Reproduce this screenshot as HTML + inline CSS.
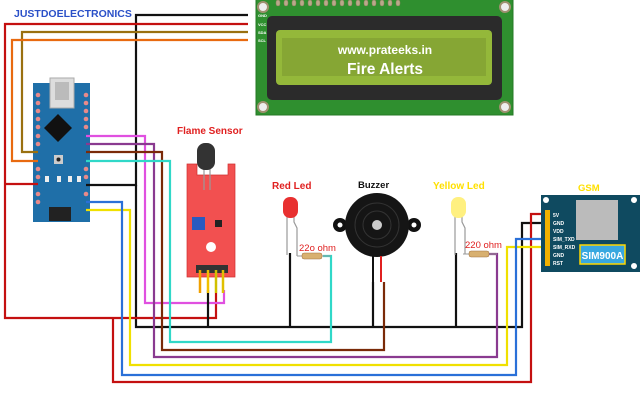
<!DOCTYPE html>
<html><head><meta charset="utf-8"><style>
html,body{margin:0;padding:0;background:#fff;}
svg{display:block;}
text{font-family:"Liberation Sans",sans-serif;font-weight:bold;}
</style></head><body>
<svg width="640" height="406" viewBox="0 0 640 406" xmlns="http://www.w3.org/2000/svg">
<rect width="640" height="406" fill="#fff"/>
<text x="14" y="17" font-size="10.5" fill="#2a50c8">JUSTDOELECTRONICS</text>

<!-- LCD -->
<rect x="256" y="-2" width="257" height="117" fill="#2f8f2f" stroke="#257a25"/>
<g fill="#b9a98a" stroke="#8a7a5a" stroke-width="0.5">
<rect x="276" y="0" width="4" height="6" rx="2"/><rect x="284" y="0" width="4" height="6" rx="2"/><rect x="292" y="0" width="4" height="6" rx="2"/><rect x="300" y="0" width="4" height="6" rx="2"/><rect x="308" y="0" width="4" height="6" rx="2"/><rect x="316" y="0" width="4" height="6" rx="2"/><rect x="324" y="0" width="4" height="6" rx="2"/><rect x="332" y="0" width="4" height="6" rx="2"/><rect x="340" y="0" width="4" height="6" rx="2"/><rect x="348" y="0" width="4" height="6" rx="2"/><rect x="356" y="0" width="4" height="6" rx="2"/><rect x="364" y="0" width="4" height="6" rx="2"/><rect x="372" y="0" width="4" height="6" rx="2"/><rect x="380" y="0" width="4" height="6" rx="2"/><rect x="388" y="0" width="4" height="6" rx="2"/><rect x="396" y="0" width="4" height="6" rx="2"/>
</g>
<circle cx="263" cy="7" r="5" fill="#eee" stroke="#a09070" stroke-width="2"/>
<circle cx="505" cy="7" r="5" fill="#eee" stroke="#a09070" stroke-width="2"/>
<circle cx="263" cy="107" r="5" fill="#eee" stroke="#a09070" stroke-width="2"/>
<circle cx="505" cy="107" r="5" fill="#eee" stroke="#a09070" stroke-width="2"/>
<rect x="267" y="16" width="235" height="84" rx="5" fill="#2b2b2b"/>
<rect x="276" y="30" width="216" height="55" rx="4" fill="#94b83a"/>
<rect x="282" y="38" width="204" height="38" fill="#86a634"/>
<text x="385" y="54" font-size="12" fill="#fff" text-anchor="middle">www.prateeks.in</text>
<text x="385" y="74" font-size="15.5" fill="#fff" text-anchor="middle">Fire Alerts</text>
<text x="258" y="17" font-size="4" fill="#fff">GND</text>
<text x="258" y="26" font-size="4" fill="#fff">VCC</text>
<text x="258" y="34" font-size="4" fill="#fff">SDA</text>
<text x="258" y="42" font-size="4" fill="#fff">SCL</text>

<!-- Nano -->
<rect x="33" y="83" width="57" height="139" fill="#1f6fa8"/>
<rect x="50" y="78" width="24" height="30" fill="#ddd" stroke="#aaa"/>
<rect x="55" y="82" width="14" height="18" fill="#bbb"/>
<g fill="#e88a8a">
<circle cx="38" cy="95" r="2.3"/><circle cx="38" cy="103" r="2.3"/><circle cx="38" cy="111" r="2.3"/><circle cx="38" cy="119" r="2.3"/><circle cx="38" cy="127" r="2.3"/><circle cx="38" cy="136" r="2.3"/><circle cx="38" cy="144" r="2.3"/><circle cx="38" cy="169" r="2.3"/><circle cx="38" cy="177" r="2.3"/><circle cx="38" cy="194" r="2.3"/><circle cx="38" cy="202" r="2.3"/>
<circle cx="86" cy="95" r="2.3"/><circle cx="86" cy="103" r="2.3"/><circle cx="86" cy="111" r="2.3"/><circle cx="86" cy="119" r="2.3"/><circle cx="86" cy="127" r="2.3"/><circle cx="86" cy="169" r="2.3"/><circle cx="86" cy="177" r="2.3"/><circle cx="86" cy="194" r="2.3"/>
</g>
<polygon points="58,114 72,128 58,142 44,128" fill="#111"/>
<rect x="54" y="155" width="9" height="9" fill="#ccc"/><circle cx="58.5" cy="159.5" r="2" fill="#222"/>
<rect x="45" y="176" width="4" height="6" fill="#eee"/><rect x="57" y="176" width="4" height="6" fill="#eee"/><rect x="68" y="176" width="4" height="6" fill="#eee"/><rect x="77" y="176" width="4" height="6" fill="#eee"/>
<rect x="49" y="207" width="22" height="14" fill="#222"/>

<!-- Wires -->
<g fill="none" stroke-width="2.2" stroke-linejoin="miter">
<polyline stroke="#111" points="248,15 136,15 136,185 86,185"/>
<polyline stroke="#111" points="136,185 136,327 522,327 522,223 545,223"/>
<polyline stroke="#c41010" points="248,24 5,24 5,318 216,318 216,293"/>
<polyline stroke="#c41010" points="5,184 38,184"/>
<polyline stroke="#c41010" points="113,318 113,382 531,382 531,214 545,214"/>
<polyline stroke="#9a7010" points="248,32 22,32 22,152 38,152"/>
<polyline stroke="#e86a10" points="248,40 12,40 12,161 38,161"/>
<polyline stroke="#e050e0" points="86,136 145,136 145,303 224,303 224,290"/>
<polyline stroke="#8a3a90" points="86,144 154,144 154,357 497,357 497,254 486,254"/>
<polyline stroke="#7a2a08" points="86,152 162,152 162,350 384,350 384,282"/>
<polyline stroke="#30d8c8" points="86,161 170,161 170,342 331,342 331,256 323,256"/>
<polyline stroke="#f0e000" points="86,210 130,210 130,365 507,365 507,247 545,247"/>
<polyline stroke="#2a70d8" points="86,202 122,202 122,375 516,375 516,239 545,239"/>
<polyline stroke="#111" points="208,327 208,290"/>
<polyline stroke="#111" points="290,327 290,253"/>
<polyline stroke="#111" points="373,327 373,282"/>
<polyline stroke="#111" points="456,327 456,253"/>
</g>

<!-- Flame sensor -->
<text x="177" y="134" font-size="10" fill="#e02020">Flame Sensor</text>
<path d="M187,164 H197 V175 H228 V164 H235 V277 H187 Z" fill="#f25050" stroke="#d03030" stroke-width="0.7"/>
<line x1="204" y1="168" x2="204" y2="190" stroke="#999" stroke-width="1.2"/>
<line x1="210" y1="168" x2="210" y2="190" stroke="#999" stroke-width="1.2"/>
<rect x="197" y="143" width="18" height="27" rx="8" fill="#333"/>
<rect x="192" y="217" width="13" height="13" fill="#2a5ac0"/>
<rect x="215" y="220" width="7" height="7" fill="#222"/>
<circle cx="211" cy="247" r="5" fill="#fff"/>
<rect x="196" y="265" width="32" height="8" fill="#333"/>
<g stroke-width="2.5"><line x1="200" y1="270" x2="200" y2="293" stroke="#f0a000"/><line x1="208" y1="270" x2="208" y2="293" stroke="#f0c000"/><line x1="216" y1="270" x2="216" y2="293" stroke="#d0c000"/><line x1="223" y1="270" x2="223" y2="293" stroke="#e0c000"/></g>

<!-- Red LED -->
<text x="272" y="189" font-size="10" fill="#e02020">Red Led</text>
<line x1="287" y1="215" x2="287" y2="255" stroke="#999" stroke-width="1.2"/>
<polyline points="294,215 294,222 297,228 297,256" fill="none" stroke="#999" stroke-width="1.2"/>
<rect x="283" y="197" width="15" height="21" rx="7" fill="#e83030"/>
<text x="299" y="251" font-size="9.5" fill="#e02020" style="font-weight:normal">22o ohm</text>
<line x1="297" y1="256" x2="331" y2="256" stroke="#999" stroke-width="1"/>
<rect x="302" y="253" width="20" height="6" rx="2" fill="#d8b070" stroke="#a07040" stroke-width="0.5"/>

<!-- Buzzer -->
<text x="358" y="188" font-size="9.5" fill="#111">Buzzer</text>
<circle cx="340" cy="225" r="7" fill="#111"/><circle cx="340" cy="225" r="2.5" fill="#fff"/>
<circle cx="414" cy="225" r="7" fill="#111"/><circle cx="414" cy="225" r="2.5" fill="#fff"/>
<circle cx="377" cy="225" r="32" fill="#151515"/>
<circle cx="377" cy="225" r="22" fill="none" stroke="#333"/>
<circle cx="377" cy="225" r="14" fill="none" stroke="#333"/>
<circle cx="377" cy="225" r="5" fill="#ccc"/>
<line x1="373" y1="256" x2="373" y2="282" stroke="#111" stroke-width="2"/>
<line x1="381" y1="256" x2="381" y2="282" stroke="#e02020" stroke-width="2"/>

<!-- Yellow LED -->
<text x="433" y="189" font-size="10" fill="#ffe000">Yellow Led</text>
<line x1="455" y1="215" x2="455" y2="255" stroke="#999" stroke-width="1.2"/>
<polyline points="462,215 462,222 465,228 465,254" fill="none" stroke="#999" stroke-width="1.2"/>
<rect x="451" y="197" width="15" height="21" rx="7" fill="#fff080"/>
<text x="465" y="248" font-size="9.5" fill="#e02020" style="font-weight:normal">220 ohm</text>
<line x1="463" y1="254" x2="497" y2="254" stroke="#999" stroke-width="1"/>
<rect x="469" y="251" width="20" height="6" rx="2" fill="#d8b070" stroke="#a07040" stroke-width="0.5"/>

<!-- GSM -->
<text x="578" y="191" font-size="9.5" fill="#ffe000">GSM</text>
<rect x="541" y="195" width="99" height="77" fill="#0f4a60"/>
<circle cx="546" cy="200" r="3" fill="#fff"/><circle cx="634" cy="200" r="3" fill="#fff"/><circle cx="634" cy="266" r="3" fill="#fff"/>
<rect x="576" y="200" width="42" height="40" fill="#bbb"/>
<rect x="545" y="210" width="5" height="56" fill="#f0b000"/>
<g font-size="5" fill="#fff"><text x="553" y="217">5V</text><text x="553" y="225">GND</text><text x="553" y="233">VDD</text><text x="553" y="241">SIM_TXD</text><text x="553" y="249">SIM_RXD</text><text x="553" y="257">GND</text><text x="553" y="265">RST</text></g>
<rect x="580" y="245" width="45" height="19" fill="#38a8e0" stroke="#ffd800" stroke-width="1.5"/>
<text x="602.5" y="259" font-size="10" fill="#fff" text-anchor="middle">SIM900A</text>
</svg>
</body></html>
